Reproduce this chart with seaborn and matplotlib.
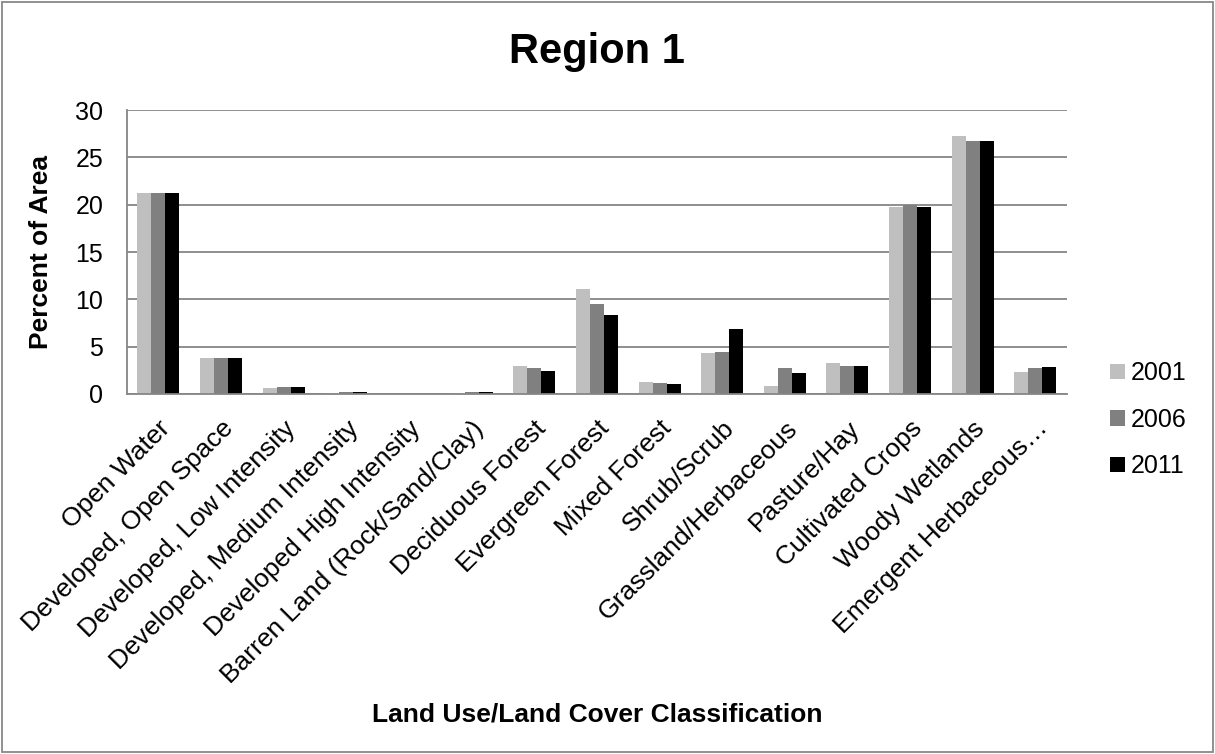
import matplotlib
matplotlib.use("Agg")
import matplotlib.pyplot as plt
import matplotlib.transforms as mtransforms
import seaborn as sns
import pandas as pd

categories = [
    "Open Water", "Developed, Open Space", "Developed, Low Intensity",
    "Developed, Medium Intensity", "Developed High Intensity",
    "Barren Land (Rock/Sand/Clay)", "Deciduous Forest", "Evergreen Forest",
    "Mixed Forest", "Shrub/Scrub", "Grassland/Herbaceous", "Pasture/Hay",
    "Cultivated Crops", "Woody Wetlands", "Emergent Herbaceous\u2026",
]
years = ["2001", "2006", "2011"]
pct_2001 = [21.2, 3.75, 0.67, 0.14, 0.0, 0.14, 3.0, 11.13, 1.31, 4.35, 0.88, 3.32, 19.75, 27.28, 2.37]
pct_2006 = [21.24, 3.78, 0.70, 0.21, 0.0, 0.25, 2.76, 9.47, 1.20, 4.45, 2.76, 2.97, 20.0, 26.78, 2.76]
pct_2011 = [21.24, 3.78, 0.70, 0.21, 0.0, 0.21, 2.47, 8.37, 1.06, 6.89, 2.19, 2.93, 19.72, 26.74, 2.83]
palette = ["#bfbfbf", "#808080", "#000000"]

df = pd.DataFrame({
    "category": categories * 3,
    "year": [y for y in years for _ in categories],
    "pct": pct_2001 + pct_2006 + pct_2011,
})

sns.set_style("white")
plt.rcParams["font.family"] = ["Liberation Sans", "DejaVu Sans"]
plt.rcParams["text.color"] = "black"
plt.rcParams["axes.labelcolor"] = "black"

fig = plt.figure(figsize=(12.15, 7.54), dpi=100)
ax = fig.add_axes([0.1045, 0.4775, 0.7735, 0.3765])

sns.barplot(data=df, x="category", y="pct", hue="year", palette=palette,
            width=0.67, saturation=1, linewidth=0, ax=ax, legend=True)

grid_c = "#868686"
ax.set_ylim(0, 30)
ax.set_yticks(range(0, 31, 5))
ax.set_xlim(-0.5, len(categories) - 0.5)
ax.yaxis.grid(True, color=grid_c, linewidth=1.3)
ax.set_axisbelow(True)
for s in ["top", "right"]:
    ax.spines[s].set_visible(False)
for s in ["left", "bottom"]:
    ax.spines[s].set_color(grid_c)
    ax.spines[s].set_linewidth(1.3)

# category boundaries get the tick marks, labels sit at the centres
ax.set_xticks([i - 0.5 for i in range(len(categories) + 1)], minor=False)
ax.set_xticklabels([])
ax.set_xticks(range(len(categories)), minor=True)
ax.set_xticklabels(categories, minor=True, rotation=45, ha="right",
                   rotation_mode="anchor", fontsize=19)
shift = mtransforms.ScaledTranslation(-9 / 100, 0, fig.dpi_scale_trans)
for lbl in ax.get_xticklabels(minor=True):
    lbl.set_transform(lbl.get_transform() + shift)
ax.tick_params(axis="x", which="major", length=6, color=grid_c, width=1.3, direction="out")
ax.tick_params(axis="x", which="minor", length=0, pad=16, labelcolor="black")
ax.tick_params(axis="y", length=6, color=grid_c, width=1.3, labelsize=18,
               direction="out", pad=11, labelcolor="black")

ax.set_xlabel("Land Use/Land Cover Classification", fontsize=19, fontweight="bold")
ax.xaxis.set_label_coords(0.5, -1.088)
ax.set_ylabel("Percent of Area", fontsize=19, fontweight="bold")
ax.yaxis.set_label_coords(-0.0787, 0.5)
ax.set_title("Region 1", fontsize=30, fontweight="bold", pad=34)

handles, labels = ax.get_legend_handles_labels()
ax.legend(handles, labels, loc="center left", bbox_to_anchor=(1.046, -0.0915),
          frameon=False, fontsize=18, handlelength=0.58, handleheight=0.58,
          handletextpad=0.25, labelspacing=0.9, borderaxespad=0, borderpad=0)

border = plt.Rectangle((0.002, 0.002), 0.996, 0.996, transform=fig.transFigure,
                       fill=False, edgecolor="#888888", linewidth=1.3)
fig.patches.append(border)

fig.savefig("out.png", dpi=100)
